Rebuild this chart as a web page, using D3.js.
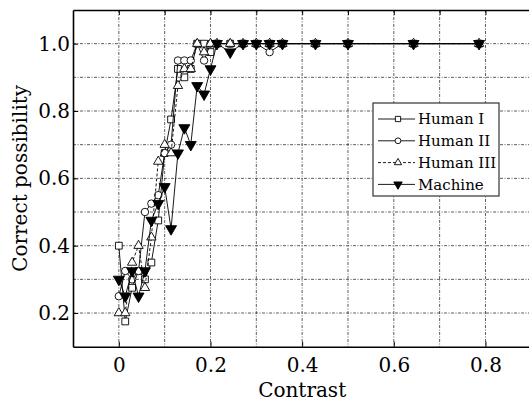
<!DOCTYPE html>
<html>
<head>
<meta charset="utf-8">
<script src="https://cdn.jsdelivr.net/npm/d3@7"></script>
<style>
  body { margin: 0; background: #fff; }
  text { font-family: "DejaVu Serif", serif; fill: #000; }
</style>
</head>
<body>
<div id="chart"></div>
<script>
// Contrast levels (x) shared by all observers
const contrast = [0, 0.014, 0.029, 0.043, 0.057, 0.071, 0.086, 0.1, 0.114, 0.129, 0.143, 0.157, 0.171, 0.186, 0.2,
                  0.214, 0.243, 0.271, 0.3, 0.329, 0.357, 0.429, 0.5, 0.643, 0.786];

// Correct possibility for each observer
const humanI   = [0.4, 0.175, 0.275, 0.325, 0.3, 0.35, 0.475, 0.675, 0.775, 0.925, 0.9, 0.925, 1.0, 1.0, 0.975,
                  1, 1, 1, 1, 1, 1, 1, 1, 1, 1];
const humanII  = [0.25, 0.325, 0.3, 0.325, 0.5, 0.525, 0.55, 0.675, 0.7, 0.95, 0.95, 0.95, 1.0, 0.95, 1.0,
                  1, 1, 1, 1, 0.975, 1, 1, 1, 1, 1];
const humanIII = [0.2, 0.2, 0.35, 0.4, 0.275, 0.425, 0.65, 0.7, 0.675, 0.875, 0.925, 0.925, 1.0, 0.975, 1.0,
                  1, 1, 1, 1, 1, 1, 1, 1, 1, 1];
const machine  = [0.3, 0.25, 0.325, 0.25, 0.325, 0.475, 0.525, 0.575, 0.45, 0.675, 0.75, 0.7, 0.875, 0.85, 0.925,
                  1.0, 0.975, 1, 1, 1, 1, 1, 1, 1, 1];

const seriesNames = ["Human I", "Human II", "Human III", "Machine"];
const xTicks = [0, 0.2, 0.4, 0.6, 0.8];
const yTicks = [0.2, 0.4, 0.6, 0.8, 1.0];

const W = 529, H = 401;
const margin = {top: 10, left: 73};
const plotW = 458.3;   // -0.1 .. 0.9 (right edge falls outside the window)
const plotH = 336.7;   // 0.1 .. 1.1

const svg = d3.select("#chart").append("svg")
    .attr("width", W).attr("height", H);

const g = svg.append("g").attr("transform", `translate(${margin.left},${margin.top})`);

const x = d3.scaleLinear().domain([-0.1, 0.9]).range([0, plotW]);
const y = d3.scaleLinear().domain([0.1, 1.1]).range([plotH, 0]);

// dotted grid every 0.1
const gridX = d3.range(0, 0.9, 0.1);
const gridY = d3.range(0.2, 1.1, 0.1);
g.append("g").selectAll("line").data(gridX).join("line")
    .attr("x1", d => x(d)).attr("x2", d => x(d))
    .attr("y1", 0).attr("y2", plotH)
    .attr("stroke", "#333").attr("stroke-width", 0.8)
    .attr("stroke-dasharray", "3,1.5,1,1.5");
g.append("g").selectAll("line").data(gridY).join("line")
    .attr("x1", 0).attr("x2", plotW)
    .attr("y1", d => y(d)).attr("y2", d => y(d))
    .attr("stroke", "#333").attr("stroke-width", 0.8)
    .attr("stroke-dasharray", "3,1.5,1,1.5");

// axes with inward ticks
g.append("g")
    .attr("transform", `translate(0,${plotH})`)
    .call(d3.axisBottom(x).tickValues(xTicks).tickSizeInner(-5).tickSizeOuter(0)
        .tickFormat(d => d === 0 ? "0" : d3.format(".1f")(d)))
    .call(a => a.select(".domain").attr("stroke", "#000").attr("stroke-width", 1.6))
    .call(a => a.selectAll("text").attr("y", 11).style("font-size", "20px").style("font-family", "DejaVu Serif"));

g.append("g")
    .call(d3.axisLeft(y).tickValues(yTicks).tickSizeInner(-5).tickSizeOuter(0).tickFormat(d3.format(".1f")))
    .call(a => a.select(".domain").attr("stroke", "#000").attr("stroke-width", 1.6))
    .call(a => a.selectAll("text").attr("x", -3).style("font-size", "20px").style("font-family", "DejaVu Serif"));

g.append("g")
    .call(d3.axisTop(x).tickValues(d3.range(0, 0.9, 0.1)).tickSizeInner(-5).tickSizeOuter(0).tickFormat(""))
    .call(a => a.select(".domain").attr("stroke", "#000").attr("stroke-width", 1.6));

// axis titles
svg.append("text")
    .attr("x", margin.left + x(0.4)).attr("y", 397)
    .attr("text-anchor", "middle").style("font-size", "20px")
    .text("Contrast");
svg.append("text")
    .attr("transform", `translate(27,${margin.top + y(0.6)}) rotate(-90)`)
    .attr("text-anchor", "middle").style("font-size", "20px")
    .text("Correct possibility");

// series
const seriesData = [humanI, humanII, humanIII, machine];
const styles = [
  {type: d3.symbolSquare,   size: 46, fill: "#fff", dash: null,  rot: 0},
  {type: d3.symbolCircle,   size: 44, fill: "#fff", dash: null,  rot: 0},
  {type: d3.symbolTriangle, size: 38, fill: "#fff", dash: "3,2", rot: 0},
  {type: d3.symbolTriangle, size: 52, fill: "#000", dash: null,  rot: 180}
];

const line = d3.line().x(d => x(d[0])).y(d => y(d[1]));

seriesData.forEach((vals, i) => {
  const pts = contrast.map((c, j) => [c, vals[j]]);
  const st = styles[i];
  g.append("path")
      .datum(pts)
      .attr("d", line)
      .attr("fill", "none")
      .attr("stroke", "#000")
      .attr("stroke-width", 0.9)
      .attr("stroke-dasharray", st.dash);
  g.append("g").selectAll("path").data(pts).join("path")
      .attr("transform", d => `translate(${x(d[0])},${y(d[1])}) rotate(${st.rot})`)
      .attr("d", d3.symbol().type(st.type).size(st.size))
      .attr("fill", st.fill)
      .attr("stroke", "#000")
      .attr("stroke-width", 0.9);
});

// legend
const lg = svg.append("g").attr("transform", "translate(373,103)");
lg.append("rect")
    .attr("width", 126).attr("height", 93)
    .attr("fill", "#fff").attr("stroke", "#333").attr("stroke-width", 1.2);
seriesNames.forEach((name, i) => {
  const st = styles[i];
  const cy = 16 + i * 21.8;
  lg.append("line")
      .attr("x1", 5).attr("x2", 42).attr("y1", cy).attr("y2", cy)
      .attr("stroke", "#000").attr("stroke-width", 0.9)
      .attr("stroke-dasharray", st.dash);
  lg.append("path")
      .attr("transform", `translate(25,${cy}) rotate(${st.rot})`)
      .attr("d", d3.symbol().type(st.type).size(st.size * 0.6))
      .attr("fill", st.fill).attr("stroke", "#000").attr("stroke-width", 0.9);
  lg.append("text")
      .attr("x", 45).attr("y", cy).attr("dy", "0.36em")
      .style("font-size", "15px")
      .text(name);
});
</script>
</body>
</html>
